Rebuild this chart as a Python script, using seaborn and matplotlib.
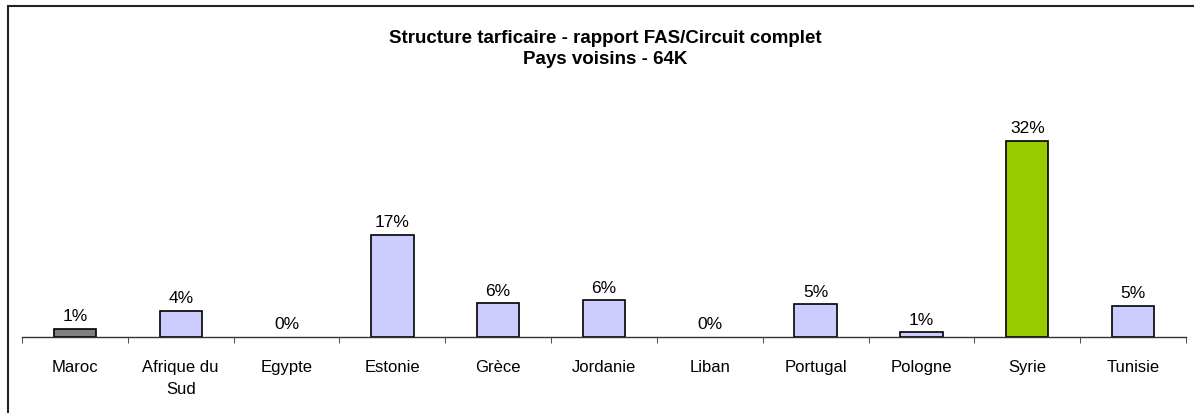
import numpy as np
import pandas as pd
import matplotlib.pyplot as plt
import seaborn as sns
from matplotlib.patches import Rectangle

# Data
countries = ["Maroc", "Afrique du\nSud", "Egypte", "Estonie", "Grèce", "Jordanie",
             "Liban", "Portugal", "Pologne", "Syrie", "Tunisie"]
values = [1.4, 4.3, 0.0, 16.9, 5.6, 6.1, 0.0, 5.4, 0.8, 32.4, 5.2]
colors = ["#808080", "#CCCCFF", "#CCCCFF", "#CCCCFF", "#CCCCFF", "#CCCCFF",
          "#CCCCFF", "#CCCCFF", "#CCCCFF", "#99CC00", "#CCCCFF"]

df = pd.DataFrame({"pays": countries, "valeur": values})

sns.set_style("white")
plt.rcParams['font.family'] = ['Liberation Sans', 'DejaVu Sans']
plt.rcParams['text.color'] = 'black'
plt.rcParams['xtick.color'] = 'black'

fig = plt.figure(figsize=(11.94, 4.14), dpi=100)
ax = fig.add_axes([22/1194, 1 - 338/414, (1186 - 22)/1194, 0.585])

sns.barplot(data=df, x="pays", y="valeur", hue="pays", palette=dict(zip(countries, colors)),
            legend=False, width=0.4, edgecolor="black", linewidth=1.2, ax=ax, saturation=1)

# hide the flat outline of zero-height bars
for p in ax.patches:
    if p.get_height() == 0:
        p.set_visible(False)

for c in ax.containers:
    ax.bar_label(c, labels=[f"{v:.0f}%" for v in c.datavalues], padding=4,
                 fontsize=12.5, color="black")

ax.set_xlim(-0.5, 10.5)
ax.set_ylim(0, 40)
ax.set_xlabel("")
ax.set_ylabel("")
ax.set_yticks([])
ax.set_xticks(np.arange(-0.5, 11, 1), minor=True)
ax.tick_params(axis="x", which="major", length=0, labelsize=12, pad=16, labelcolor="black")
ax.tick_params(axis="x", which="minor", length=4, color="#333333", direction="out", bottom=True)
for lab in ax.get_xticklabels():
    lab.set_linespacing(1.55)
for s in ["top", "left", "right"]:
    ax.spines[s].set_visible(False)
ax.spines["bottom"].set_color("#333333")
ax.spines["bottom"].set_linewidth(1)

fig.text(605/1194, 1 - 49/414, "Structure tarficaire - rapport FAS/Circuit complet\nPays voisins - 64K",
         ha="center", va="center", fontsize=13.5, fontweight="bold", linespacing=1.25,
         color="black")

# outer frame
fig.patches.append(Rectangle((8/1194, -0.1), 1.2, 1 - 7/414 + 0.1, transform=fig.transFigure,
                             fill=False, edgecolor="#222222", linewidth=1.5))

fig.savefig("out.png", dpi=100)
